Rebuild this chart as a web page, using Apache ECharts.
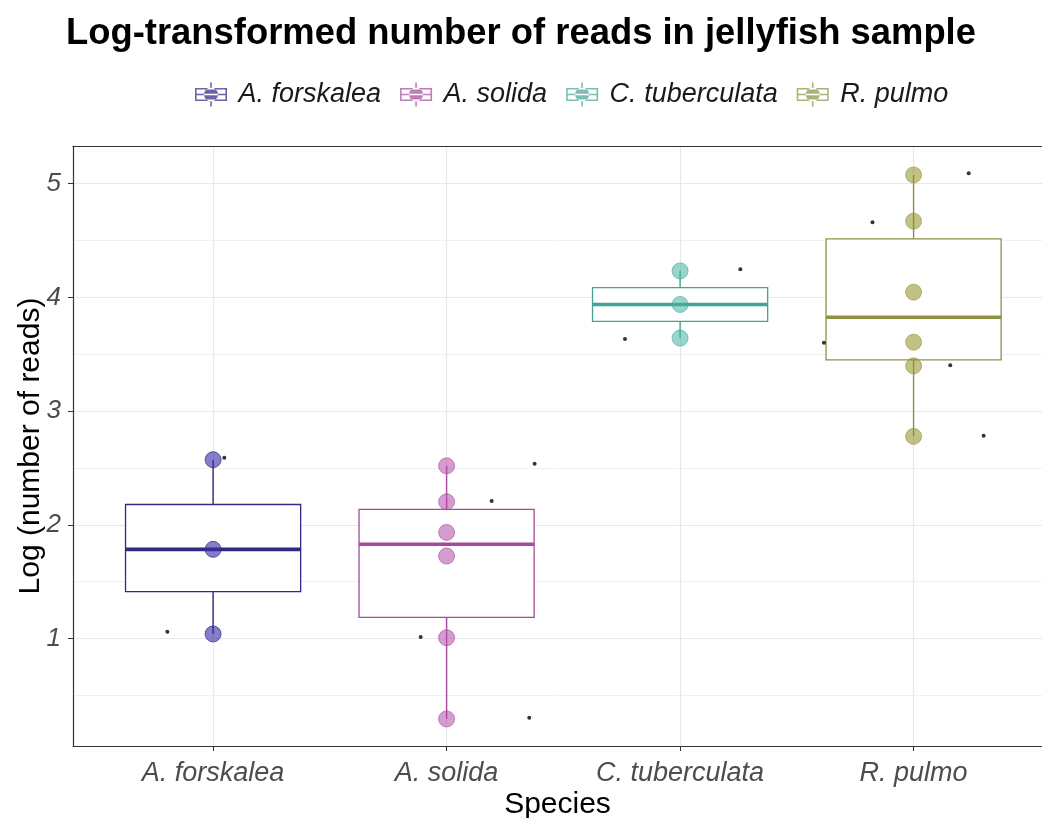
<!DOCTYPE html>
<html>
<head>
<meta charset="utf-8">
<script src="https://cdn.jsdelivr.net/npm/echarts@6/dist/echarts.min.js"></script>
<style>
  html, body { margin: 0; padding: 0; background: #fff; }
  #chart { width: 1042px; height: 818px; }
</style>
</head>
<body>
<div id="chart"></div>
<script>
// ---------- data ----------
const species = ['A. forskalea', 'A. solida', 'C. tuberculata', 'R. pulmo'];
const forskaleaReads = [2.572, 1.784, 1.040];
const solidaReads = [2.518, 2.202, 1.933, 1.725, 1.007, 0.293];
const tuberculataReads = [4.232, 3.937, 3.641];
const pulmoReads = [5.076, 4.669, 4.045, 3.605, 3.397, 2.777];
// small jittered black dots: [horizontal jitter, value]
const forskaleaJitter = [[0.048, 2.590], [-0.196, 1.060]];
const solidaJitter = [[0.377, 2.536], [0.193, 2.208], [-0.111, 1.013], [0.354, 0.304]];
const tuberculataJitter = [[0.258, 4.247], [-0.236, 3.634]];
const pulmoJitter = [[0.236, 5.090], [-0.176, 4.660], [-0.384, 3.600], [0.157, 3.403], [0.300, 2.782]];
const yTicks = [1, 2, 3, 4, 5];
const yMinorLines = [0.5, 1.5, 2.5, 3.5, 4.5];
const xTicks = [1, 2, 3, 4];

// ---------- styles ----------
const lineColors = ['#2f2a82', '#a64a9c', '#45a396', '#8d9243'];
const pointColors = ['rgba(58,47,168,0.62)', 'rgba(176,74,168,0.55)', 'rgba(63,181,160,0.55)', 'rgba(143,143,32,0.55)'];
const pointBorders = ['rgba(47,42,130,0.7)', 'rgba(166,74,156,0.6)', 'rgba(69,163,150,0.6)', 'rgba(141,146,67,0.6)'];
const FONT = 'Liberation Sans, Arial, sans-serif';

const allReads = [forskaleaReads, solidaReads, tuberculataReads, pulmoReads];
const allJitter = [forskaleaJitter, solidaJitter, tuberculataJitter, pulmoJitter];

// type-7 quantile (as in R / ggplot)
function quantile(sorted, p) {
  const h = (sorted.length - 1) * p;
  const lo = Math.floor(h), hi = Math.ceil(h);
  return sorted[lo] + (h - lo) * (sorted[hi] - sorted[lo]);
}
const boxData = allReads.map((arr, i) => {
  const s = arr.slice().sort((a, b) => a - b);
  const q1 = quantile(s, 0.25), med = quantile(s, 0.5), q3 = quantile(s, 0.75);
  const iqr = q3 - q1;
  const lo = Math.min(...s.filter(v => v >= q1 - 1.5 * iqr));
  const hi = Math.max(...s.filter(v => v <= q3 + 1.5 * iqr));
  return [i + 1, q1, med, q3, lo, hi];
});

const legendIcon = 'path://' +
  'M0.5,5.5 L32.5,5.5 L32.5,18.5 L0.5,18.5 Z M2.1,7.1 L2.1,16.9 L30.9,16.9 L30.9,7.1 Z ' +
  'M0.5,11.2 L32.5,11.2 L32.5,12.8 L0.5,12.8 Z ' +
  'M15.7,0 L17.3,0 L17.3,5.5 L15.7,5.5 Z M15.7,18.5 L17.3,18.5 L17.3,24 L15.7,24 Z ' +
  'M9.5,12 A7,7 0 1,0 23.5,12 A7,7 0 1,0 9.5,12 Z';

const chart = echarts.init(document.getElementById('chart'), null, { renderer: 'canvas' });

const series = [];
// grid lines (under boxes)
series.push({
  type: 'scatter', data: [], z: 0, silent: true,
  markLine: {
    z: 0, silent: true, symbol: 'none', animation: false, label: { show: false },
    data: [
      ...yMinorLines.map(v => ({ yAxis: v, lineStyle: { color: '#f0f0f0', width: 1, type: 'solid' } })),
      ...yTicks.map(v => ({ yAxis: v, lineStyle: { color: '#e8e8e8', width: 1.2, type: 'solid' } })),
      ...xTicks.map(v => ({ xAxis: v, lineStyle: { color: '#e8e8e8', width: 1.2, type: 'solid' } }))
    ]
  }
});
// boxes
series.push({
  type: 'custom', z: 2, silent: true,
  data: boxData,
  renderItem: function (params, api) {
    const i = params.dataIndex;
    const x = api.value(0);
    const q1 = api.coord([x, api.value(1)]);
    const md = api.coord([x, api.value(2)]);
    const q3 = api.coord([x, api.value(3)]);
    const lo = api.coord([x, api.value(4)]);
    const hi = api.coord([x, api.value(5)]);
    const hw = api.size([0.75, 0])[0] / 2;
    const col = lineColors[i];
    return {
      type: 'group',
      children: [
        { type: 'line', shape: { x1: hi[0], y1: hi[1], x2: q3[0], y2: q3[1] }, style: { stroke: col, lineWidth: 1.4 } },
        { type: 'line', shape: { x1: q1[0], y1: q1[1], x2: lo[0], y2: lo[1] }, style: { stroke: col, lineWidth: 1.4 } },
        { type: 'rect', shape: { x: md[0] - hw, y: q3[1], width: 2 * hw, height: q1[1] - q3[1] },
          style: { fill: '#ffffff', stroke: col, lineWidth: 1.3, opacity: 1 } },
        { type: 'line', shape: { x1: md[0] - hw, y1: md[1], x2: md[0] + hw, y2: md[1] }, style: { stroke: col, lineWidth: 3.6 } }
      ]
    };
  }
});
// points
species.forEach((name, i) => {
  series.push({
    type: 'scatter', name: name, z: 3,
    symbol: 'circle', symbolSize: 16,
    itemStyle: { color: pointColors[i], borderColor: pointBorders[i], borderWidth: 1, opacity: 1 },
    data: allReads[i].map(v => [i + 1, v])
  });
});
// jittered black dots
series.push({
  type: 'scatter', z: 4, silent: true,
  symbol: 'circle', symbolSize: 4,
  itemStyle: { color: '#000' },
  data: allJitter.flatMap((arr, i) => arr.map(d => [i + 1 + d[0], d[1]]))
});

const X_MIN = 0.4, X_MAX = 4.55;

const option = {
  animation: false,
  backgroundColor: '#ffffff',
  title: {
    text: 'Log-transformed number of reads in jellyfish sample',
    left: 'center', top: 11,
    textStyle: { fontFamily: FONT, fontWeight: 'bold', fontSize: 36.4, color: '#000' }
  },
  legend: {
    left: 190, top: 76,
    itemWidth: 33, itemHeight: 24, itemGap: 19,
    selectedMode: false,
    textStyle: { fontFamily: FONT, fontStyle: 'italic', fontSize: 27, color: '#1a1a1a', padding: [0, 0, 0, 6] },
    data: species.map((n, i) => ({ name: n, icon: legendIcon, itemStyle: { color: lineColors[i], opacity: 0.72, borderWidth: 0 } }))
  },
  grid: {
    left: 73, right: 0, top: 146, bottom: 72,
    show: false, containLabel: false, outerBoundsMode: 'none'
  },
  xAxis: [{
    type: 'value', min: X_MIN, max: X_MAX,
    name: 'Species', nameLocation: 'middle', nameGap: 44, nameMoveOverlap: false,
    nameTextStyle: { fontFamily: FONT, fontSize: 30, color: '#000' },
    axisLine: { show: true, onZero: false, lineStyle: { color: '#333333', width: 1.2 } },
    axisTick: { show: true, customValues: xTicks, length: 5, lineStyle: { color: '#333' } },
    axisLabel: {
      customValues: xTicks, margin: 14,
      formatter: v => species[Math.round(v) - 1],
      fontFamily: FONT, fontStyle: 'italic', fontSize: 27, color: '#4d4d4d'
    },
    splitLine: { show: false }
  }, {
    type: 'value', min: X_MIN, max: X_MAX, position: 'top',
    axisLine: { show: true, onZero: false, lineStyle: { color: '#333333', width: 1.2 } },
    axisTick: { show: false }, axisLabel: { show: false }, splitLine: { show: false }
  }],
  yAxis: {
    type: 'value', min: 0.055, max: 5.33,
    name: 'Log (number of reads)', nameLocation: 'middle', nameGap: 27, nameRotate: 90, nameMoveOverlap: false,
    nameTextStyle: { fontFamily: FONT, fontSize: 30, color: '#000' },
    axisLine: { show: true, onZero: false, lineStyle: { color: '#333333', width: 1.2 } },
    axisTick: { show: true, customValues: yTicks, length: 5, lineStyle: { color: '#333' } },
    axisLabel: {
      customValues: yTicks, margin: 12,
      formatter: v => String(Math.round(v)),
      fontFamily: FONT, fontStyle: 'italic', fontSize: 26, color: '#4d4d4d'
    },
    splitLine: { show: false }
  },
  series: series
};
chart.setOption(option);
</script>
</body>
</html>
